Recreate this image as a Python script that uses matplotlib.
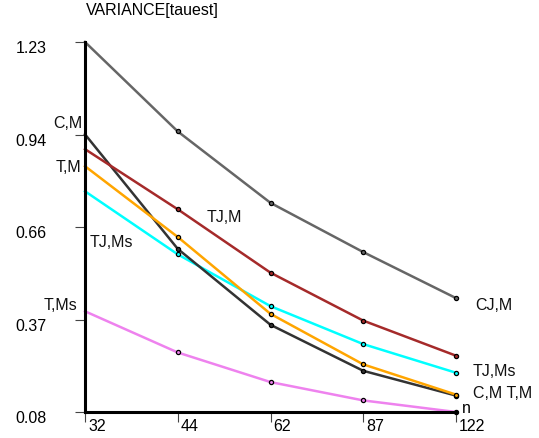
import numpy as np
import matplotlib
matplotlib.use('Agg')
import matplotlib.pyplot as plt

plt.rcParams['font.family'] = ['Liberation Sans', 'DejaVu Sans']

# ── data ─────────────────────────────────────────────────────────────────────
n_values = ['32', '44', '62', '87', '122']
y_ticks = [0.08, 0.3675, 0.655, 0.9425, 1.23]
y_tick_labels = ['0.08', '0.37', '0.66', '0.94', '1.23']

cj_m = [1.230, 0.952, 0.730, 0.577, 0.434]
tj_m = [0.897, 0.710, 0.513, 0.364, 0.255]
tj_ms = [0.766, 0.570, 0.409, 0.291, 0.202]
t_m = [0.844, 0.624, 0.385, 0.228, 0.134]
c_m = [0.943, 0.587, 0.351, 0.208, 0.131]
t_ms = [0.393, 0.265, 0.173, 0.116, 0.080]

# (values, colour, [(label, point index, dx px, dy px, ha), ...])
series = [
    (t_ms, '#ee82ee', [('T,Ms', 0, -8, 7, 'right')]),
    (tj_ms, '#00ffff', [('TJ,Ms', 0, 5, -50, 'left'), ('TJ,Ms', 4, 17, 2, 'left')]),
    (c_m, '#333333', [('C,M', 0, -3, 12, 'right')]),
    (t_m, '#ffa500', [('T,M', 0, -4, 0, 'right'), ('C,M T,M', 4, 17, 2, 'left')]),
    (tj_m, '#a52a2a', [('TJ,M', 1, 29, -7, 'left')]),
    (cj_m, '#666666', [('CJ,M', 4, 19, -6, 'left')]),
]

FS = 11.5
W, H = 539, 439
fig = plt.figure(figsize=(W / 100, H / 100), dpi=100)
ax = fig.add_axes([85 / W, 1 - 413 / H, 371 / W, 370 / H])

x = np.arange(len(n_values))
for vals, col, labels in series:
    ax.plot(x, vals, color=col, lw=1.8, clip_on=False, zorder=3,
            marker='o', ms=3.0, mfc=col, mec='black', mew=0.9,
            markevery=slice(1, None))
    for text, i, dx, dy, ha in labels:
        ax.annotate(text, xy=(x[i], vals[i]), xytext=(dx, dy),
                    textcoords='offset pixels', ha=ha, va='center',
                    fontsize=FS, color='#111111')

ax.set_xlim(0, len(n_values) - 1)
ax.set_ylim(y_ticks[0], y_ticks[-1])
for s in ['top', 'right']:
    ax.spines[s].set_visible(False)
for s in ['left', 'bottom']:
    ax.spines[s].set_linewidth(2.2)
    ax.spines[s].set_zorder(5)

ax.set_xticks(x)
ax.set_xticklabels([])
ax.set_yticks(y_ticks)
ax.set_yticklabels([])
ax.tick_params(axis='both', length=7, width=0.8, color='#444444')

for v, lbl in zip(y_ticks, y_tick_labels):
    ax.annotate(lbl, xy=(0, v), xycoords=('axes fraction', 'data'),
                xytext=(-38, -6), textcoords='offset pixels',
                ha='right', va='center', fontsize=FS)
for i, lbl in zip(x, n_values):
    ax.annotate(lbl, xy=(i, y_ticks[0]), xytext=(3, -6),
                textcoords='offset pixels', ha='left', va='top', fontsize=FS)

ax.annotate('n', xy=(x[-1], y_ticks[0]), xytext=(6, 4),
            textcoords='offset pixels', ha='left', va='center', fontsize=FS)
fig.text(86 / W, 1 - 11 / H, 'VARIANCE[tauest]', ha='left', va='center', fontsize=FS)

fig.savefig('out.png', dpi=100)
